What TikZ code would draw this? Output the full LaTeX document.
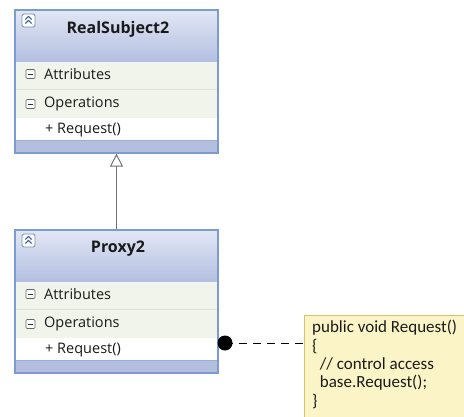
\documentclass[tikz,border=0pt]{standalone}
\usepackage{fontspec}
\setmainfont{Open Sans}
\newfontfamily\notefont{Carlito}
\usetikzlibrary{arrows.meta}
\definecolor{hdtop}{HTML}{E2E7F5}
\definecolor{hdbot}{HTML}{B3BFE0}
\definecolor{bord}{HTML}{7B9CD2}
\definecolor{rowbg}{HTML}{F1F4EA}
\definecolor{rowln}{HTML}{DDE2D3}
\definecolor{band}{HTML}{B4BFDF}
\definecolor{notebg}{HTML}{FBF4C6}
\definecolor{notebd}{HTML}{D8C16B}
\definecolor{txt}{HTML}{1A1A1A}
\definecolor{icon}{HTML}{3B5A9A}
\tikzset{
  classbox/.style={draw=bord, line width=1.2pt, minimum width=203pt, minimum height=143pt, inner sep=0pt},
  title/.style={font=\fontsize{16}{18}\selectfont\bfseries, text=txt},
  rowtxt/.style={font=\fontsize{14.5}{16}\selectfont, text=txt, anchor=west, inner sep=0pt},
  minusbox/.style={draw=black!60, fill=white, rounded corners=1pt, minimum size=9pt, inner sep=0pt, line width=0.6pt},
  notetxt/.style={font=\notefont\fontsize{17}{18.4}\selectfont, text=txt, align=left, anchor=north west, inner sep=0pt},
}
\newcommand{\mkclass}[3]{%
  \begin{scope}[shift={(0,#2)}]
    \shade[top color=hdtop, bottom color=hdbot] (15,0) rectangle (218,52);
    \fill[rowbg] (15,52) rectangle (218,108);
    \draw[rowln, line width=0.8pt] (15,79.5) -- (218,79.5);
    \draw[white!90!bord, line width=0.8pt] (15,52.5) -- (218,52.5);
    \fill[white] (15,108) rectangle (218,130);
    \fill[band] (15,130) rectangle (218,143);
    \draw[bord!80, line width=0.8pt] (15,130) -- (218,130);
    \draw[icon!70, fill=white, rounded corners=1.5pt, line width=0.8pt] (22,4) rectangle (35,17);
    \draw[icon, line width=1.1pt] (25.3,9.5) -- (28.5,6.5) -- (31.7,9.5);
    \draw[icon, line width=1.1pt] (25.3,13.5) -- (28.5,10.5) -- (31.7,13.5);
    \node[title] at (118,19) {#3};
    \node[minusbox] at (30.5,64) {};
    \draw[black!80, line width=0.9pt] (27.8,64) -- (33.2,64);
    \node[rowtxt] at (44,64) {Attributes};
    \node[minusbox] at (30.5,94) {};
    \draw[black!80, line width=0.9pt] (27.8,94) -- (33.2,94);
    \node[rowtxt] at (44,94) {Operations};
    \node[rowtxt] at (45,120) {+ Request()};
  \end{scope}
  \node[classbox] (#1) at (116.5,#2+71.5) {};
}
\begin{document}
\begin{tikzpicture}[x=1pt,y=-1pt]
\useasboundingbox (0,0) rectangle (464,416);
\fill[white] (0,0) rectangle (464,416);
\mkclass{real}{10}{RealSubject2}
\mkclass{proxy}{230}{Proxy2}
% note
\node[draw=notebd, fill=notebg, line width=1.2pt, anchor=north west, minimum width=170pt, minimum height=110pt, inner sep=0pt] (note) at (304,315) {};
\node[notetxt] (notetext) at (312,320) {public void Request()\\\{\\\ \ // control access\\\ \ base.Request();\\\}};
% inheritance
\draw[gray!90!black, line width=1pt, -{Triangle[open, width=13pt, length=13pt, fill=white]}] (proxy.north) -- (real.south);
% note link
\coordinate (dot) at (225,343);
\fill[black] (dot) circle (7.5pt);
\draw[black, line width=1pt, dash pattern=on 8pt off 6pt] (dot) -- (note.west |- dot);
\end{tikzpicture}
\end{document}
